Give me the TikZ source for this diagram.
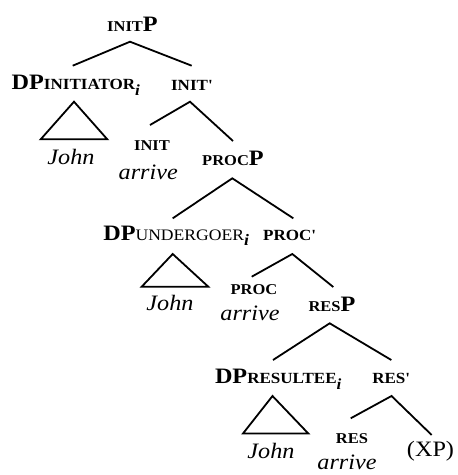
\documentclass[tikz,border=0pt]{standalone}
\usepackage{fontspec}
\setmainfont{Liberation Serif}[FakeStretch=1.1]
\newcommand\bigB{\fontsize{22}{22}\selectfont\bfseries}
\newcommand\xpSC[1]{{\fontsize{15}{15}\selectfont\bfseries #1}}
\newcommand\barSC[1]{{\fontsize{15.5}{15}\selectfont\bfseries #1\textquotesingle}}
\newcommand\hdSC[1]{{\fontsize{15}{15}\selectfont\bfseries #1}}
\newcommand\subB[1]{{\fontsize{15.5}{15}\selectfont\bfseries #1\raisebox{-6pt}{\itshape i}}}
\newcommand\subR[1]{{\fontsize{16}{15}\selectfont #1{\bfseries\raisebox{-5pt}{\itshape i}}}}
\newcommand\itW[1]{{\fontsize{22}{22}\selectfont\itshape #1}}
\newcommand\rmW[1]{{\fontsize{22}{22}\selectfont #1}}
\begin{document}
\begin{tikzpicture}[x=1pt,y=-1pt,
  br/.style={line width=1.8pt},
  tri/.style={line width=1.8pt,line join=miter},
  lbl/.style={inner sep=0pt,outer sep=0pt}]
\useasboundingbox (0,0) rectangle (458,475);
% ---- initP
\node[lbl,anchor=base] (initP) at (132.5,31.5) {\xpSC{INIT}\bigB P};
\coordinate (a1) at (130,41.7);
\coordinate (a1l) at (72.7,65.7);
\coordinate (a1r) at (191.7,65.7);
\draw[br] (a1l) -- (a1) -- (a1r);
\node[lbl,anchor=base west] (dp1) at (11.7,89.3) {{\bigB DP}\subB{INITIATOR}};
\node[lbl,anchor=base] (init1) at (191.7,90) {\barSC{INIT}};
% triangle 1
\coordinate (t1) at (74,101.7);
\coordinate (t1l) at (40.7,139.3);
\coordinate (t1r) at (107.3,139.3);
\draw[tri] (t1) -- (t1l) -- (t1r) -- cycle;
\node[lbl,anchor=base] (john1) at (71,164.5) {\itW{John}};
% init' branches
\coordinate (b1) at (190,101.7);
\coordinate (b1l) at (150,125);
\coordinate (b1r) at (233,141);
\draw[br] (b1l) -- (b1) -- (b1r);
\node[lbl,anchor=base] (inith) at (152,150.7) {\hdSC{INIT}};
\node[lbl,anchor=base] (arr1) at (148.3,179) {\itW{arrive}};
% ---- procP
\node[lbl,anchor=base] (procP) at (233,165) {\xpSC{PROC}\bigB P};
\coordinate (a2) at (232.3,178.3);
\coordinate (a2l) at (172.7,218.3);
\coordinate (a2r) at (293.3,218.3);
\draw[br] (a2l) -- (a2) -- (a2r);
\node[lbl,anchor=base west] (dp2) at (103.3,240) {{\bigB DP}\subR{UNDERGOER}};
\node[lbl,anchor=base] (proc1) at (289.5,240) {\barSC{PROC}};
% triangle 2
\coordinate (t2) at (172.7,254);
\coordinate (t2l) at (141.7,286.7);
\coordinate (t2r) at (208.3,286.7);
\draw[tri] (t2) -- (t2l) -- (t2r) -- cycle;
\node[lbl,anchor=base] (john2) at (170,310) {\itW{John}};
% proc' branches
\coordinate (b2) at (292.3,254);
\coordinate (b2l) at (251.7,276.7);
\coordinate (b2r) at (333.3,287);
\draw[br] (b2l) -- (b2) -- (b2r);
\node[lbl,anchor=base] (proch) at (254,294.3) {\hdSC{PROC}};
\node[lbl,anchor=base] (arr2) at (250,320) {\itW{arrive}};
% ---- resP
\node[lbl,anchor=base] (resP) at (332,311) {\xpSC{RES}\bigB P};
\coordinate (a3) at (329.7,323.3);
\coordinate (a3l) at (273,360);
\coordinate (a3r) at (391.3,360);
\draw[br] (a3l) -- (a3) -- (a3r);
\node[lbl,anchor=base west] (dp3) at (215,383) {{\bigB DP}\subB{RESULTEE}};
\node[lbl,anchor=base] (res1) at (391,383.5) {\barSC{RES}};
% triangle 3
\coordinate (t3) at (272.5,396);
\coordinate (t3l) at (243,433.5);
\coordinate (t3r) at (308.3,433.5);
\draw[tri] (t3) -- (t3l) -- (t3r) -- cycle;
\node[lbl,anchor=base] (john3) at (271,458.3) {\itW{John}};
% res' branches
\coordinate (b3) at (391.5,396);
\coordinate (b3l) at (350.7,418.3);
\coordinate (b3r) at (431.7,435);
\draw[br] (b3l) -- (b3) -- (b3r);
\node[lbl,anchor=base] (resh) at (352,443) {\hdSC{RES}};
\node[lbl,anchor=base] (arr3) at (347,469.5) {\itW{arrive}};
\node[lbl,anchor=base] (xp) at (430.5,456) {\rmW{(XP)}};
\end{tikzpicture}
\end{document}
